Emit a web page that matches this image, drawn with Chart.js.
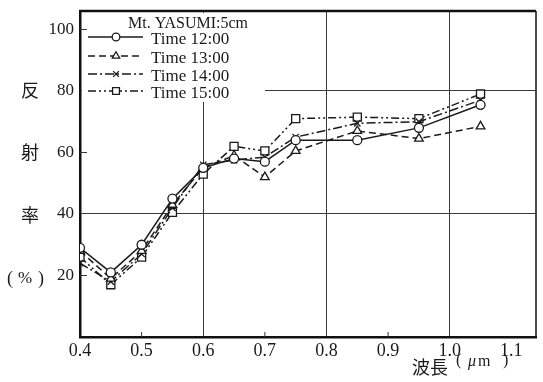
<!DOCTYPE html>
<html>
<head>
<meta charset="utf-8">
<script src="https://cdn.jsdelivr.net/npm/chart.js@4/dist/chart.umd.min.js"></script>
<style>
  html, body { margin: 0; padding: 0; background: #fff; }
  #wrap { width: 543px; height: 382px; }
</style>
</head>
<body>
<div id="wrap"><canvas id="c" width="543" height="382"></canvas></div>
<script>
// Wavelength (µm) of each measurement
const wavelengths = [0.4, 0.45, 0.5, 0.55, 0.6, 0.65, 0.7, 0.75, 0.85, 0.95, 1.05];

// Reflectance (%) per observation time
const time1200 = [29, 21, 30, 45, 55, 58, 57, 64, 64, 68, 75.5];
const time1300 = [28, 19, 28, 43, 55, 59, 52, 60.5, 67, 64.5, 68.5];
const time1400 = [24, 18, 27, 42, 56, 57.5, 58.5, 65, 69.5, 70, 77];
const time1500 = [26, 17, 26, 40.5, 53, 62, 60.5, 71, 71.5, 71, 79];

const seriesLabels = ['Time 12:00', 'Time 13:00', 'Time 14:00', 'Time 15:00'];
const legendTitle = 'Mt. YASUMI:5cm';

const xTicks = [0.4, 0.5, 0.6, 0.7, 0.8, 0.9, 1.0, 1.1];
const yTicks = [20, 40, 60, 80, 100];
const xGridAt = [0.6, 0.8, 1.0];
const yGridAt = [40, 80];
const xMinorAt = [0.5, 0.7, 0.9];
const yMinorAt = [20, 60, 100];

const INK = '#1a1a1a';
const SERIF = '"Liberation Serif", "Times New Roman", serif';
const CJK = '"Noto Sans CJK JP", "Noto Sans CJK SC", sans-serif';

const styles = [
  { dash: [], point: 'circle', r: 4.5 },
  { dash: [7, 4], point: 'triangle', r: 5 },
  { dash: [9, 3, 2, 3], point: 'crossRot', r: 4.5 },
  { dash: [8, 3, 2, 3, 2, 3], point: 'rect', r: 5.7 }
];

const allValues = [time1200, time1300, time1400, time1500];

const datasets = allValues.map((vals, i) => ({
  label: seriesLabels[i],
  data: wavelengths.map((x, j) => ({ x: x, y: vals[j] })),
  borderColor: INK,
  borderWidth: 1.5,
  borderDash: styles[i].dash,
  pointStyle: styles[i].point,
  pointRadius: styles[i].r,
  pointBorderWidth: 1.3,
  pointBorderColor: INK,
  pointBackgroundColor: '#fff',
  tension: 0,
  fill: false
}));

function marker(ctx, style, x, y, r) {
  ctx.save();
  ctx.setLineDash([]);
  ctx.lineWidth = 1.3;
  ctx.strokeStyle = INK;
  ctx.fillStyle = '#fff';
  ctx.beginPath();
  if (style === 'circle') {
    ctx.arc(x, y, r, 0, Math.PI * 2);
    ctx.fill(); ctx.stroke();
  } else if (style === 'triangle') {
    ctx.moveTo(x, y - r);
    ctx.lineTo(x + r * 0.87, y + r * 0.5);
    ctx.lineTo(x - r * 0.87, y + r * 0.5);
    ctx.closePath();
    ctx.fill(); ctx.stroke();
  } else if (style === 'crossRot') {
    const d = r * 0.75;
    ctx.moveTo(x - d, y - d); ctx.lineTo(x + d, y + d);
    ctx.moveTo(x + d, y - d); ctx.lineTo(x - d, y + d);
    ctx.stroke();
  } else {
    const s = r / Math.SQRT2;
    ctx.rect(x - s, y - s, 2 * s, 2 * s);
    ctx.fill(); ctx.stroke();
  }
  ctx.restore();
}

// Legend box with the sample line and marker of each series
const legendBox = {
  id: 'legendBox',
  beforeDatasetsDraw(chart) {
    const ctx = chart.ctx;
    const a = chart.chartArea;
    ctx.save();
    ctx.fillStyle = '#fff';
    ctx.fillRect(a.left + 2, a.top + 2, 183, 89);
    ctx.fillStyle = INK;
    ctx.textBaseline = 'middle';
    ctx.textAlign = 'left';
    ctx.font = '16px ' + SERIF;
    ctx.fillText(legendTitle, 128, 24);
    const rowsY = [40, 59, 77, 94];
    chart.data.datasets.forEach((ds, i) => {
      const ly = rowsY[i] - 3;
      ctx.save();
      ctx.strokeStyle = INK;
      ctx.lineWidth = 1.4;
      ctx.setLineDash(ds.borderDash);
      ctx.beginPath();
      ctx.moveTo(88, ly);
      ctx.lineTo(143, ly);
      ctx.stroke();
      ctx.restore();
      marker(ctx, ds.pointStyle, 116, ly, ds.pointRadius * 0.85);
      ctx.fillStyle = INK;
      ctx.font = '17px ' + SERIF;
      ctx.fillText(ds.label, 151, rowsY[i]);
    });
    ctx.restore();
  }
};

// Frame, inward tick marks and the axis titles
const frame = {
  id: 'frame',
  afterDraw(chart) {
    const ctx = chart.ctx;
    const a = chart.chartArea;
    const xs = chart.scales.x, ys = chart.scales.y;
    ctx.save();
    ctx.strokeStyle = '#111';
    ctx.lineWidth = 2.5;
    ctx.beginPath();
    ctx.moveTo(a.left - 1, a.top);
    ctx.lineTo(a.right, a.top);
    ctx.stroke();
    ctx.lineWidth = 1.5;
    ctx.beginPath();
    ctx.moveTo(a.right, a.top);
    ctx.lineTo(a.right, a.bottom);
    ctx.stroke();

    ctx.lineWidth = 1;
    ctx.strokeStyle = '#333';
    ctx.beginPath();
    yMinorAt.forEach(v => {
      const y = ys.getPixelForValue(v);
      ctx.moveTo(a.left, y); ctx.lineTo(a.left + 7, y);
    });
    xMinorAt.forEach(v => {
      const x = xs.getPixelForValue(v);
      ctx.moveTo(x, a.bottom); ctx.lineTo(x, a.bottom - 5);
    });
    ctx.stroke();

    ctx.fillStyle = INK;
    ctx.textAlign = 'center';
    ctx.textBaseline = 'middle';
    ctx.font = '18px ' + CJK;
    ctx.fillText('反', 30, 90);
    ctx.fillText('射', 30, 152);
    ctx.fillText('率', 30, 215);
    ctx.font = '18px ' + SERIF;
    ctx.fillText('(', 10, 279);
    ctx.fillText(')', 41, 279);
    ctx.font = '17px ' + SERIF;
    ctx.fillText('%', 25, 279);

    ctx.font = '18px ' + CJK;
    ctx.fillText('波長', 430, 367);
    ctx.font = '16px ' + SERIF;
    ctx.textAlign = 'left';
    ctx.fillText('(', 456, 361);
    ctx.font = 'italic 16px ' + SERIF;
    ctx.fillText('\u03BC', 468, 362);
    ctx.font = '16px ' + SERIF;
    ctx.fillText('m', 478, 362);
    ctx.fillText(')', 503, 361);
    ctx.restore();
  }
};

new Chart(document.getElementById('c'), {
  type: 'line',
  data: { datasets: datasets },
  options: {
    responsive: false,
    animation: false,
    devicePixelRatio: 1,
    layout: { padding: { top: 11, right: -2, left: 0, bottom: 0 } },
    plugins: { legend: { display: false }, tooltip: { enabled: false } },
    scales: {
      x: {
        type: 'linear',
        min: 0.4,
        max: 1.14,
        afterBuildTicks: s => { s.ticks = xTicks.map(v => ({ value: v })); },
        afterFit: s => { s.height = 45; s.paddingLeft = 0; s.paddingRight = 0; },
        ticks: {
          callback: v => v.toFixed(1),
          font: { family: SERIF, size: 18 },
          color: INK,
          padding: 3,
          maxRotation: 0,
          autoSkip: false
        },
        grid: {
          drawTicks: false,
          lineWidth: 1,
          color: c => (c.tick && xGridAt.some(g => Math.abs(g - c.tick.value) < 1e-6)) ? '#3a3a3a' : 'rgba(0,0,0,0)'
        },
        border: { width: 2.5, color: '#111' }
      },
      y: {
        min: 0,
        max: 106,
        afterBuildTicks: s => { s.ticks = yTicks.map(v => ({ value: v })); },
        afterFit: s => { s.width = 80; s.paddingTop = 0; s.paddingBottom = 0; },
        ticks: {
          font: { family: SERIF, size: 17 },
          color: INK,
          padding: 6
        },
        grid: {
          drawTicks: false,
          lineWidth: 1,
          color: c => (c.tick && yGridAt.includes(c.tick.value)) ? '#3a3a3a' : 'rgba(0,0,0,0)'
        },
        border: { width: 2.5, color: '#111' }
      }
    }
  },
  plugins: [legendBox, frame]
});
</script>
</body>
</html>
